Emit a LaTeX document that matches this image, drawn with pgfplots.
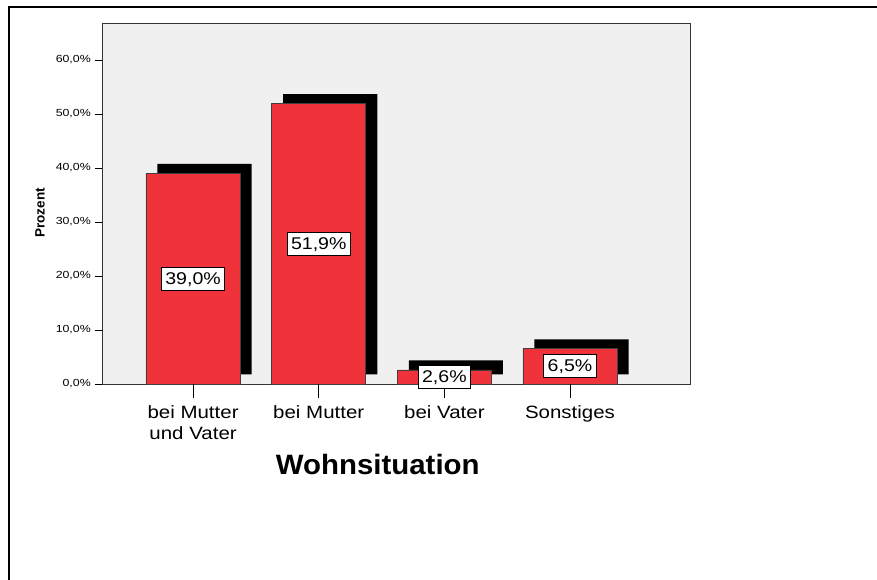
\documentclass[border=0pt]{standalone}
\usepackage{fontspec}
\setmainfont{Liberation Sans}
\newfontfamily\tickfont{Liberation Sans}[FakeStretch=1.2]
\newfontfamily\labfont{Liberation Sans}[FakeStretch=1.15]
\newfontfamily\titlefont{Liberation Sans}[FakeStretch=1.05]
\usepackage{pgfplots}
\pgfplotsset{compat=1.18}
\definecolor{barred}{RGB}{240,51,58}
\definecolor{plotbg}{RGB}{240,240,240}
\begin{document}
\begin{tikzpicture}[x=1pt,y=1pt]
\useasboundingbox (0,0) rectangle (877,580);
\fill[white] (0,0) rectangle (877,580);
\draw[line width=1.6pt] (9,-5) -- (9,573) -- (882,573);
\begin{axis}[
  at={(102pt,196pt)}, anchor=south west,
  scale only axis, width=588pt, height=361pt,
  xmin=-0.725, xmax=3.955, ymin=0, ymax=66.85,
  axis background/.style={fill=plotbg},
  axis line style={draw=black!80, line width=0.9pt},
  clip=false,
  tick pos=left,
  xtick={0,1,2,3},
  xticklabels={{bei Mutter\\und Vater},{bei Mutter},{bei Vater},{Sonstiges}},
  xtick style={draw=none},
  xticklabel style={align=center, font=\labfont\fontsize{17.8}{21}\selectfont, anchor=north, inner sep=0pt, yshift=-14pt},
  ytick={0,10,20,30,40,50,60},
  yticklabels={{0,0\%},{10,0\%},{20,0\%},{30,0\%},{40,0\%},{50,0\%},{60,0\%}},
  ytick style={black, line width=0.9pt},
  tick align=outside, major tick length=7pt,
  yticklabel style={font=\tickfont\fontsize{10.3}{12}\selectfont, anchor=east, inner sep=0pt, xshift=-4pt},
  ylabel={Prozent},
  ylabel style={font=\bfseries\fontsize{13.5}{15}\selectfont, at={(axis description cs:-0.1054,0.474)}, anchor=center},
  xlabel={Wohnsituation},
  xlabel style={font=\titlefont\bfseries\fontsize{28}{32}\selectfont, at={(axis description cs:0.469,-0.252)}, anchor=base},
]
% shadows
\addplot[ybar, bar width=0.75, bar shift=11.5pt, fill=black, draw=none, yshift=9.5pt, forget plot]
  coordinates {(0,39.0) (1,51.9) (2,2.6) (3,6.5)};
% bars
\addplot[ybar, bar width=0.75, bar shift=0pt, fill=barred, draw=black!75, line width=0.8pt, forget plot]
  coordinates {(0,39.0) (1,51.9) (2,2.6) (3,6.5)};
% x tick marks
\addplot[ycomb, black, line width=0.9pt, mark=none, forget plot]
  coordinates {(0,-2.6) (1,-2.6) (2,-2.6) (3,-2.6)};
% value labels
\addplot[draw=none, mark=none, forget plot, nodes near coords, point meta=explicit symbolic,
  nodes near coords style={anchor=center, draw=black, fill=white, line width=0.9pt,
    font=\labfont\fontsize{17}{20}\selectfont, inner xsep=4pt, inner ysep=0pt,
    text height=17pt, text depth=6pt}]
  coordinates {(0,19.5) [39,0\%] (1,25.95) [51,9\%] (2,1.3) [2,6\%] (3,3.25) [6,5\%]};
\end{axis}
\end{tikzpicture}
\end{document}
